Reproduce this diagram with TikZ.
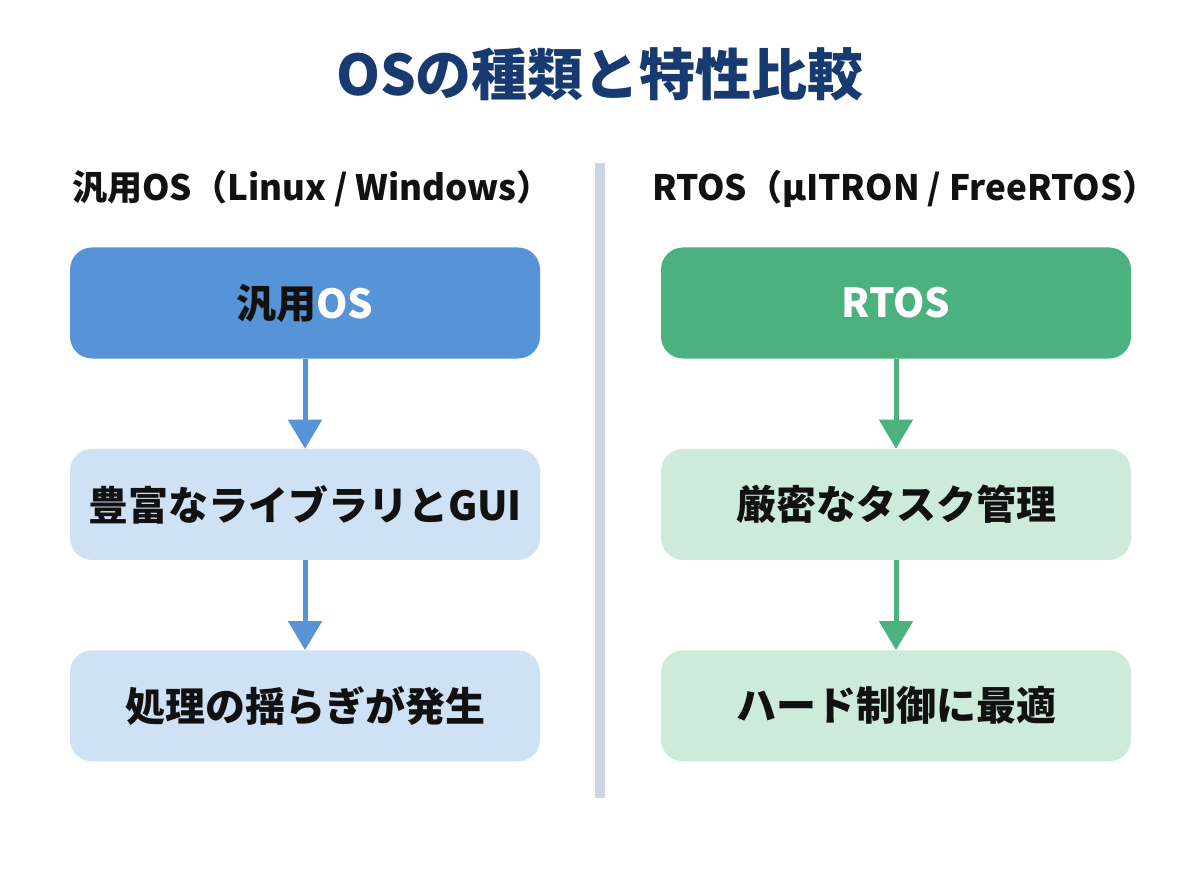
\documentclass[tikz,border=0pt]{standalone}
\usepackage{fontspec}
\setmainfont{Noto Sans CJK JP}
\usetikzlibrary{positioning,arrows.meta}
\definecolor{titleblue}{HTML}{173A70}
\definecolor{gpblue}{HTML}{5694D7}
\definecolor{gplight}{HTML}{CFE1F5}
\definecolor{rtgreen}{HTML}{4BB27F}
\definecolor{rtlight}{HTML}{CDEBDB}
\definecolor{divgray}{HTML}{CBD5E3}
\definecolor{inktext}{HTML}{111111}
\begin{document}
\begin{tikzpicture}[x=1pt,y=-1pt,
        osbox/.style={rounded corners=22pt,minimum width=470pt,minimum height=111pt,inner sep=0pt,
            text=inktext,font=\fontsize{40}{48}\selectfont\bfseries},
        subtitle/.style={anchor=west,inner sep=0pt,text=inktext,font=\fontsize{35}{42}\selectfont\bfseries},
        flow/.style={line width=5pt,-{Triangle[width=33pt,length=29pt]}}]
    \fill[white] (0,0) rectangle (1200,896);
    \useasboundingbox (0,0) rectangle (1200,896);
    \node[inner sep=0pt,anchor=base,text=titleblue,font=\fontsize{56}{64}\selectfont\bfseries] (title) at (600,96) {OSの種類と特性比較};
    \draw[divgray,line width=10pt] (600,163) -- (600,798);
    \node[subtitle] (gpsub) at (72,189) {汎用OS（Linux / Windows）};
    \node[subtitle] (rtsub) at (652,189) {RTOS（μITRON / FreeRTOS）};
    \node[osbox,fill=gpblue] (gphead) at (305,303) {汎用\textcolor{white}{OS}};
    \node[osbox,fill=gplight,below=90pt of gphead] (gplib) {豊富なライブラリとGUI};
    \node[osbox,fill=gplight,below=90pt of gplib] (gpjitter) {処理の揺らぎが発生};
    \node[osbox,fill=rtgreen,text=white] (rthead) at (896,303) {RTOS};
    \node[osbox,fill=rtlight,below=90pt of rthead] (rttask) {厳密なタスク管理};
    \node[osbox,fill=rtlight,below=90pt of rttask] (rthw) {ハード制御に最適};
    \draw[flow,gpblue] (gphead.south) -- (gplib.north);
    \draw[flow,gpblue] (gplib.south) -- (gpjitter.north);
    \draw[flow,rtgreen] (rthead.south) -- (rttask.north);
    \draw[flow,rtgreen] (rttask.south) -- (rthw.north);
\end{tikzpicture}
\end{document}
